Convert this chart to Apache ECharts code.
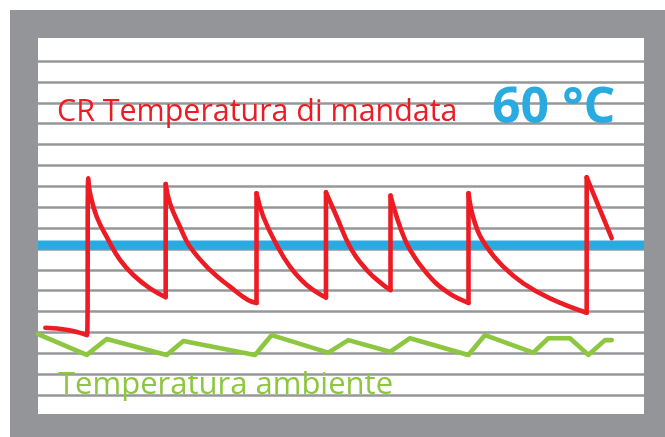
<!DOCTYPE html>
<html>
<head>
<meta charset="utf-8">
<script src="https://cdn.jsdelivr.net/npm/echarts@6/dist/echarts.min.js"></script>
<style>html,body{margin:0;padding:0;background:#fff;}#c{width:665px;height:437px;}</style>
</head>
<body>
<div id="c"></div>
<script>
// x: time (0..100), y: temperature in grid-line units (0..16)
const supplyTemp = [
  [1.22,3.22],[4.93,3.11],[8.09,2.87],[8.30,10.38],
  [8.58,9.68],[9.69,8.54],[11.60,7.43],[13.53,6.47],[15.73,5.75],[18.48,5.11],[21.07,4.69],
  [21.07,10.11],[21.78,9.18],[23.43,8.06],[25.08,7.10],[28.38,5.99],[31.68,5.19],[34.65,4.55],[36.06,4.41],
  [36.06,9.66],[37.18,8.54],[39.39,7.19],[41.58,6.15],[44.34,5.27],[47.52,4.67],
  [47.52,9.71],[49.29,8.54],[51.49,7.10],[54.24,5.99],[56.98,5.27],[58.17,5.03],
  [58.17,9.55],[59.74,8.06],[61.39,6.95],[64.14,5.83],[67.44,4.95],[71.04,4.41],
  [71.04,9.66],[72.11,8.23],[74.04,7.10],[76.78,6.15],[80.08,5.35],[84.49,4.63],[90.54,3.94],
  [90.54,10.43],[94.67,7.51]
];
const ambientTemp = [
  [0,2.92],[8.04,1.92],[11.34,2.68],[21.24,1.92],[23.98,2.59],[35.81,1.92],[38.56,2.87],
  [47.90,2.03],[51.20,2.63],[58.09,2.07],[61.39,2.72],[71.01,1.92],[73.76,2.87],[81.73,2.03],
  [84.21,2.72],[87.79,2.72],[90.81,1.92],[93.56,2.63],[94.67,2.63]
];
const setpointValue = 7.19;
const setpointRange = [0, 100];
const labelSupply = 'CR Temperatura di mandata';
const labelSetpoint = '60 °C';
const labelAmbient = 'Temperatura ambiente';

const RED = '#ed1c24';
const redStyle = {color:RED, width:4.6, cap:'round', join:'round'};

// split the supply curve into cooling runs (smooth) and heating jumps (vertical)
const supplySeries = [];
let run = [supplyTemp[0]];
for (let i = 1; i < supplyTemp.length; i++) {
  const p = supplyTemp[i], q = supplyTemp[i-1];
  if (p[0] === q[0]) {
    if (run.length > 1) supplySeries.push({data: run, smooth: 0.45});
    supplySeries.push({data: [q, p], smooth: false});
    run = [p];
  } else {
    run.push(p);
  }
}
if (run.length > 1) supplySeries.push({data: run, smooth: run.length > 2 ? 0.45 : false});

const FONT = '"Open Sans", "Noto Sans", sans-serif';
const chart = echarts.init(document.getElementById('c'), null, {renderer:'canvas'});
chart.setOption({
  backgroundColor: '#ffffff',
  animation: false,
  graphic: [
    {type:'rect', z:-100, shape:{x:10,y:10,width:655,height:427}, style:{fill:'#939598'}},
    {type:'rect', z:-99, shape:{x:38,y:38,width:606,height:376}, style:{fill:'#ffffff'}},
    {type:'text', z:100, x:57, y:112.5, style:{text:labelSupply, fill:RED, font:'30.4px '+FONT, align:'left', verticalAlign:'middle'}},
    {type:'text', z:100, x:492, y:109, style:{text:labelSetpoint, fill:'#29abe2', font:'bold 50px '+FONT, align:'left', verticalAlign:'middle'}},
    {type:'text', z:100, x:58, y:385.5, style:{text:labelAmbient, fill:'#8dc63f', font:'31px '+FONT, align:'left', verticalAlign:'middle'}}
  ],
  grid: {left:38, top:61, width:606, height:334, containLabel:false},
  xAxis: {type:'value', min:0, max:100, show:false},
  yAxis: {type:'value', min:0, max:16, interval:1,
    axisLine:{show:false}, axisTick:{show:false}, axisLabel:{show:false},
    splitLine:{show:true, lineStyle:{color:'#96979a', width:2.6}}},
  series: [
    {type:'line', name:'setpoint', data:setpointRange.map(x => [x, setpointValue]), symbol:'none', z:3,
     lineStyle:{color:'#29abe2', width:9, cap:'butt'}},
    {type:'line', name:'ambient', data:ambientTemp, symbol:'none', z:4,
     lineStyle:{color:'#8dc63f', width:4.6, cap:'round', join:'round'}}
  ].concat(supplySeries.map(s => ({
    type:'line', name:'supply', data:s.data, smooth:s.smooth, symbol:'none', z:5,
    lineStyle:redStyle
  })))
});
</script>
</body>
</html>
